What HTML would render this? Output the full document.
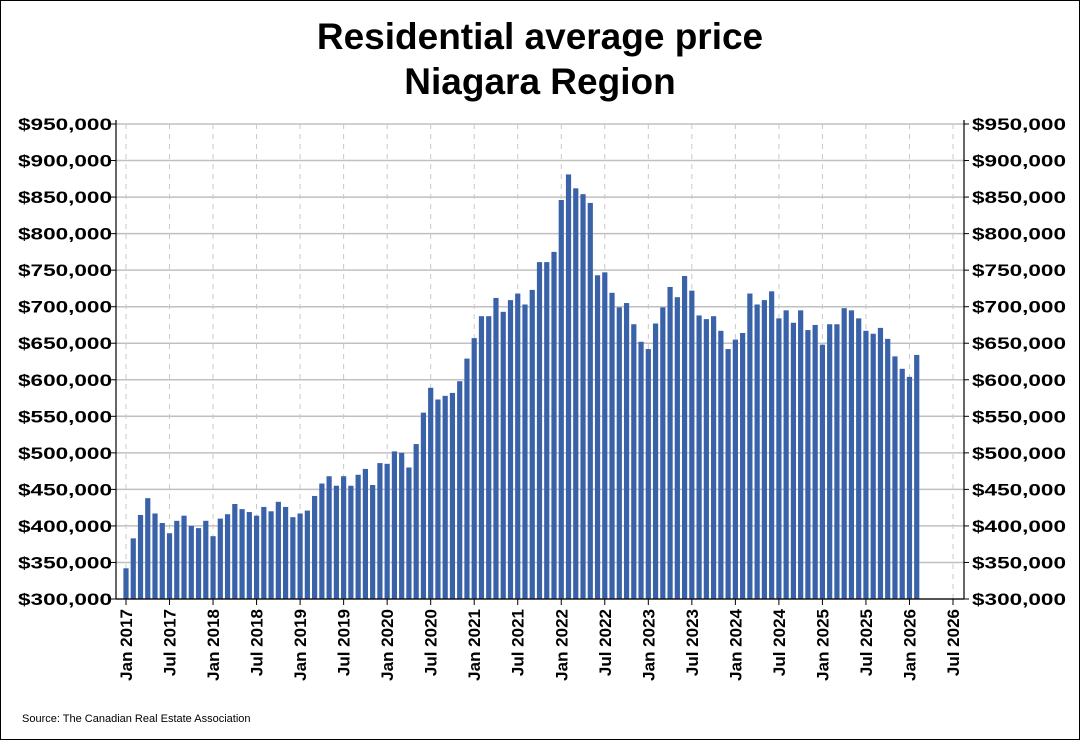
<!DOCTYPE html>
<html><head><meta charset="utf-8"><style>
html,body{margin:0;padding:0;background:#fff}
svg{display:block;font-family:"Liberation Sans",Arial,sans-serif}
</style></head><body>
<svg id="chart" width="1080" height="740" xmlns="http://www.w3.org/2000/svg">
<rect x="0.5" y="0.5" width="1079" height="739" fill="#fff" stroke="#000"/>
<text x="540" y="49" text-anchor="middle" font-size="37" font-weight="bold">Residential average price</text>
<text x="540" y="94" text-anchor="middle" font-size="37" font-weight="bold">Niagara Region</text>
<text x="22" y="722" font-size="11">Source: The Canadian Real Estate Association</text>
<g id="grid"></g><g id="bars"></g><g id="axes"></g>
</svg>
<script>
const values = [342,383,415,438,417,404,390,407,414,400,397,407,
386,410,416,430,423,419,414,426,420,433,426,412,
417,421,441,458,468,455,468,455,470,478,456,486,
485,502,500,480,512,555,589,573,578,582,598,629,
657,687,687,712,693,709,718,703,723,761,761,775,
846,881,862,854,842,743,747,719,699,705,676,652,
642,677,699,727,713,742,722,688,683,687,667,642,
655,664,718,703,709,721,684,695,678,695,668,675,
648,676,676,698,695,684,667,663,671,656,632,615,
604,634];
const yTicks = [300,350,400,450,500,550,600,650,700,750,800,850,900,950];
const xTickLabels = ["Jan 2017","Jul 2017","Jan 2018","Jul 2018","Jan 2019","Jul 2019","Jan 2020","Jul 2020","Jan 2021","Jul 2021","Jan 2022","Jul 2022","Jan 2023","Jul 2023","Jan 2024","Jul 2024","Jan 2025","Jul 2025","Jan 2026","Jul 2026"];
const NS="http://www.w3.org/2000/svg";
const L=116,R=964,T=124,B=599;
const y=v=>B-(v-300)/(950-300)*(B-T);
const x=m=>126+m*(953-126)/114;
function mk(tag,attrs,parent){const e=document.createElementNS(NS,tag);for(const k in attrs)e.setAttribute(k,attrs[k]);document.getElementById(parent).appendChild(e);return e;}
yTicks.forEach(t=>{
  const g=mk('line',{x1:L,x2:R,y1:y(t),y2:y(t),stroke:'#c0c0c0','stroke-width':1.5},'grid');
  
  
  const lab='$'+(t*1000).toLocaleString('en-US');
  const a=mk('text',{x:L-98,y:y(t)+6,'font-size':17,'font-weight':'bold',textLength:94,lengthAdjust:'spacingAndGlyphs'},'axes');a.textContent=lab;
  
  
  const b=mk('text',{x:R+8,y:y(t)+6,'font-size':17,'font-weight':'bold',textLength:94,lengthAdjust:'spacingAndGlyphs'},'axes');b.textContent=lab;
  
  
  mk('line',{x1:L-5,x2:L,y1:y(t),y2:y(t),stroke:'#000'},'axes');
  mk('line',{x1:R,x2:R+5,y1:y(t),y2:y(t),stroke:'#000'},'axes');
});
xTickLabels.forEach((lab,i)=>{
  const xx=x(i*6);
  const g=mk('line',{x1:xx,x2:xx,y1:T,y2:B,stroke:'#c8c8c8','stroke-dasharray':'5,5','stroke-width':1},'grid');
  
  
  mk('line',{x1:xx,x2:xx,y1:B,y2:B+6,stroke:'#000'},'axes');
  const t=mk('text',{x:0,y:0,'text-anchor':'end','font-size':17,'font-weight':'bold',transform:`translate(${xx+6},${B+10}) rotate(-90)`},'axes');
  t.textContent=lab;
  
  
});
values.forEach((v,i)=>{
  const r=mk('rect',{x:x(i)-2.6,y:y(v),width:5.2,height:B-y(v),fill:'#3a62a8'},'bars');
  
  
});
const a1=mk('line',{x1:L,x2:L,y1:T-4,y2:B,stroke:'#000','stroke-width':1.2},'axes');


const a2=mk('line',{x1:R,x2:R,y1:T-4,y2:B,stroke:'#000','stroke-width':1.2},'axes');


const a3=mk('line',{x1:L,x2:R,y1:B,y2:B,stroke:'#000','stroke-width':1.2},'axes');


</script>
</body></html>
